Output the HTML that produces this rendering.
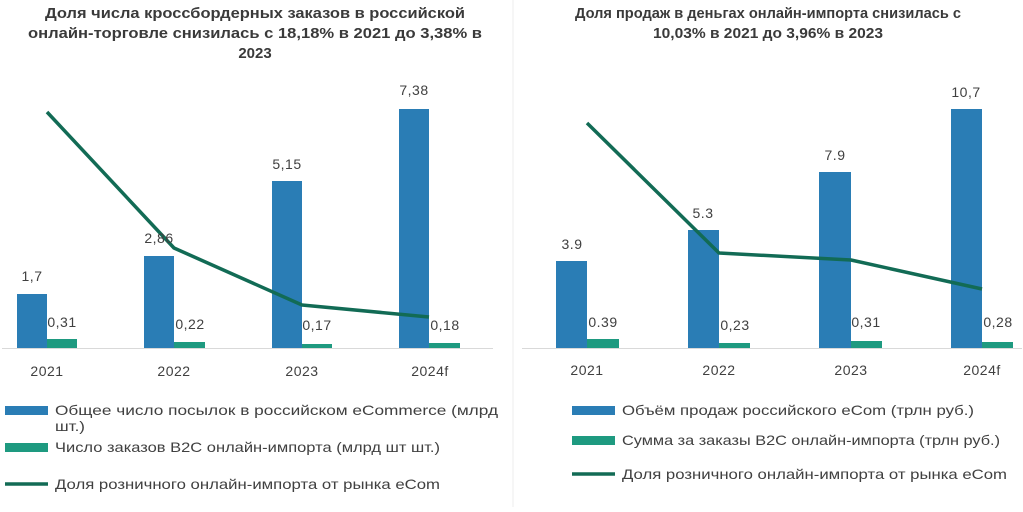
<!DOCTYPE html>
<html><head><meta charset="utf-8"><style>
body{margin:0;background:#fff;}
text{font-family:"Liberation Sans",sans-serif;fill:#404040;}
.t{font-weight:bold;font-size:15px;text-anchor:middle;fill:#3a3a3a}
.v{font-size:14px;text-anchor:middle;letter-spacing:0.5px}
.y{font-size:14px;text-anchor:middle;letter-spacing:0.5px}
.l{font-size:14px}
</style></head><body>
<svg width="1023" height="507" viewBox="0 0 1023 507" xmlns="http://www.w3.org/2000/svg">
<rect width="1023" height="507" fill="#fff"/>
<line x1="513" y1="0" x2="513" y2="507" stroke="#eeeeee"/>
<text class="t" x="255" y="18" textLength="420" lengthAdjust="spacingAndGlyphs">Доля числа кроссбордерных заказов в российской</text>
<text class="t" x="255" y="38" textLength="454" lengthAdjust="spacingAndGlyphs">онлайн-торговле снизилась с 18,18% в 2021 до 3,38% в</text>
<text class="t" x="255" y="58">2023</text>
<text class="t" x="768" y="18" textLength="386" lengthAdjust="spacingAndGlyphs">Доля продаж в деньгах онлайн-импорта снизилась с</text>
<text class="t" x="768" y="38" textLength="230" lengthAdjust="spacingAndGlyphs">10,03% в 2021 до 3,96% в 2023</text>

<line x1="2" y1="348.5" x2="493" y2="348.5" stroke="#d9d9d9"/>
<g fill="#2a7db5">
<rect x="17" y="294" width="30" height="54"/>
<rect x="144" y="256" width="30" height="92"/>
<rect x="272" y="181" width="30" height="167"/>
<rect x="399" y="109" width="30" height="239"/>
</g>
<g fill="#1e9a80">
<rect x="47" y="339" width="30" height="9"/>
<rect x="174" y="342" width="31" height="6"/>
<rect x="302" y="344" width="30" height="4"/>
<rect x="429" y="343" width="31" height="5"/>
</g>
<polyline points="47,112 174,248 302,305 429,317" fill="none" stroke="#126b55" stroke-width="3.5" stroke-linejoin="round"/>
<text class="v" x="32" y="281">1,7</text>
<text class="v" x="62" y="327">0,31</text>
<text class="v" x="159" y="243">2,86</text>
<text class="v" x="190" y="329">0,22</text>
<text class="v" x="287" y="169">5,15</text>
<text class="v" x="317" y="330">0,17</text>
<text class="v" x="414" y="95">7,38</text>
<text class="v" x="445" y="330">0,18</text>
<text class="y" x="47" y="376">2021</text>
<text class="y" x="174" y="376">2022</text>
<text class="y" x="302" y="376">2023</text>
<text class="y" x="430" y="376">2024f</text>
<rect x="5" y="406" width="43" height="9" fill="#2a7db5"/>
<text class="l" x="55" y="415" textLength="443" lengthAdjust="spacingAndGlyphs">Общее число посылок в российском eCommerce (млрд</text>
<text class="l" x="55" y="431" textLength="30" lengthAdjust="spacingAndGlyphs">шт.)</text>
<rect x="5" y="443" width="43" height="9" fill="#1e9a80"/>
<text class="l" x="55" y="452" textLength="385" lengthAdjust="spacingAndGlyphs">Число заказов B2C онлайн-импорта (млрд шт шт.)</text>
<line x1="5" y1="484" x2="48" y2="484" stroke="#126b55" stroke-width="3.5"/>
<text class="l" x="55" y="489" textLength="385" lengthAdjust="spacingAndGlyphs">Доля розничного онлайн-импорта от рынка eCom</text>

<line x1="522" y1="348.5" x2="1022" y2="348.5" stroke="#d9d9d9"/>
<g fill="#2a7db5">
<rect x="556" y="261" width="31" height="87"/>
<rect x="688" y="230" width="31" height="118"/>
<rect x="819" y="172" width="32" height="176"/>
<rect x="951" y="109" width="31" height="239"/>
</g>
<g fill="#1e9a80">
<rect x="587" y="339" width="32" height="9"/>
<rect x="719" y="343" width="31" height="5"/>
<rect x="851" y="341" width="31" height="7"/>
<rect x="982" y="342" width="31" height="6"/>
</g>
<polyline points="587,123 719,253 851,260 982,289" fill="none" stroke="#126b55" stroke-width="3.5" stroke-linejoin="round"/>
<text class="v" x="572" y="249">3.9</text>
<text class="v" x="603" y="327">0.39</text>
<text class="v" x="703" y="218">5.3</text>
<text class="v" x="735" y="330">0,23</text>
<text class="v" x="835" y="160">7.9</text>
<text class="v" x="866" y="327">0,31</text>
<text class="v" x="966" y="97">10,7</text>
<text class="v" x="998" y="327">0,28</text>
<text class="y" x="587" y="375">2021</text>
<text class="y" x="719" y="375">2022</text>
<text class="y" x="851" y="375">2023</text>
<text class="y" x="982" y="375">2024f</text>
<rect x="572" y="406" width="43" height="9" fill="#2a7db5"/>
<text class="l" x="622" y="415" textLength="352" lengthAdjust="spacingAndGlyphs">Объём продаж российского eCom (трлн руб.)</text>
<rect x="572" y="436" width="43" height="9" fill="#1e9a80"/>
<text class="l" x="622" y="445" textLength="378" lengthAdjust="spacingAndGlyphs">Сумма за заказы B2C онлайн-импорта (трлн руб.)</text>
<line x1="572" y1="474" x2="615" y2="474" stroke="#126b55" stroke-width="3.5"/>
<text class="l" x="622" y="479" textLength="385" lengthAdjust="spacingAndGlyphs">Доля розничного онлайн-импорта от рынка eCom</text>
</svg>
</body></html>
